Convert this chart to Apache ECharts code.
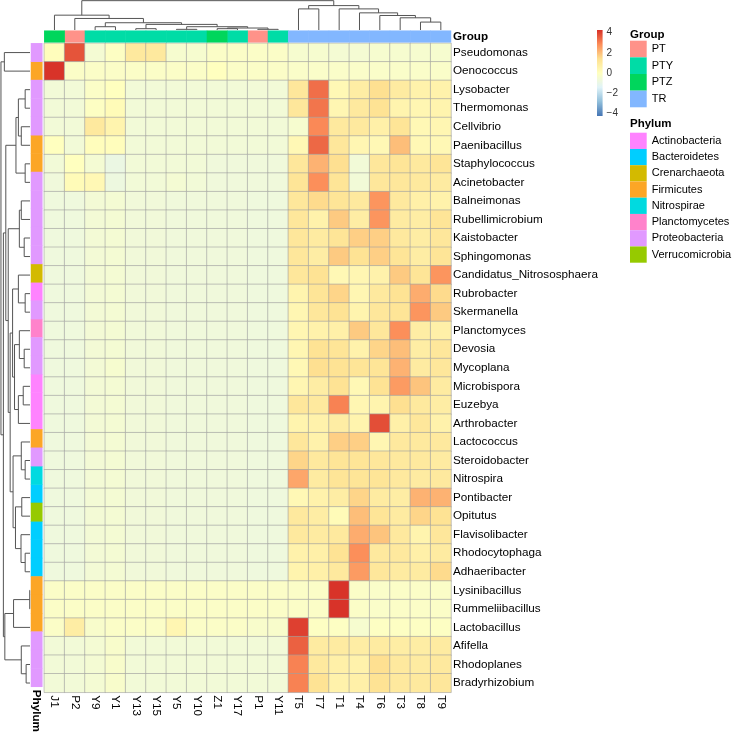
<!DOCTYPE html>
<html><head><meta charset="utf-8">
<script src="https://cdn.jsdelivr.net/npm/echarts@6/dist/echarts.min.js"></script>
<style>html,body{margin:0;padding:0;background:#fff}#c{width:733px;height:735px}</style>
</head><body><div id="c"></div>
<script>
const colNames = ['J1','P2','Y9','Y1','Y13','Y15','Y5','Y10','Z1','Y17','P1','Y11','T5','T7','T1','T4','T6','T3','T8','T9'];
const colGroups = ['PTZ','PT','PTY','PTY','PTY','PTY','PTY','PTY','PTZ','PTY','PT','PTY','TR','TR','TR','TR','TR','TR','TR','TR'];
const rowNames = ['Pseudomonas','Oenococcus','Lysobacter','Thermomonas','Cellvibrio','Paenibacillus','Staphylococcus','Acinetobacter','Balneimonas','Rubellimicrobium','Kaistobacter','Sphingomonas','Candidatus_Nitrososphaera','Rubrobacter','Skermanella','Planctomyces','Devosia','Mycoplana','Microbispora','Euzebya','Arthrobacter','Lactococcus','Steroidobacter','Nitrospira','Pontibacter','Opitutus','Flavisolibacter','Rhodocytophaga','Adhaeribacter','Lysinibacillus','Rummeliibacillus','Lactobacillus','Afifella','Rhodoplanes','Bradyrhizobium'];
const rowPhyla = ['Proteobacteria','Firmicutes','Proteobacteria','Proteobacteria','Proteobacteria','Firmicutes','Firmicutes','Proteobacteria','Proteobacteria','Proteobacteria','Proteobacteria','Proteobacteria','Crenarchaeota','Actinobacteria','Proteobacteria','Planctomycetes','Proteobacteria','Proteobacteria','Actinobacteria','Actinobacteria','Actinobacteria','Firmicutes','Proteobacteria','Nitrospirae','Bacteroidetes','Verrucomicrobia','Bacteroidetes','Bacteroidetes','Bacteroidetes','Firmicutes','Firmicutes','Firmicutes','Proteobacteria','Proteobacteria','Proteobacteria'];

// row z-scores, columns in colNames order
const zValues = [
 [0.1, 3.7,-0.5,-0.1, 1.0, 1.0,-0.4,-0.4,-0.2,-0.2,-0.2,-0.2, -0.4,-0.4,-0.5,-0.5,-0.4,-0.4,-0.4,-0.4],
 [4.2,-0.2,-0.2,-0.2,-0.2,-0.2,-0.2,-0.2, 0.0,-0.2,-0.2,-0.2, -0.25,-0.25,-0.25,-0.25,-0.25,-0.25,-0.25,-0.25],
 [-0.6,-0.6,-0.2, 0.0,-0.6,-0.6,-0.6,-0.6,-0.6,-0.6,-0.6,-0.6, 1.1, 3.3, 0.3, 0.8, 1.4, 0.9, 0.6, 0.6],
 [-0.6,-0.6,-0.1, 0.2,-0.6,-0.6,-0.6,-0.6,-0.6,-0.6,-0.6,-0.6, 1.1, 3.2, 0.4, 1.0, 1.3, 0.5, 0.4, 0.5],
 [-0.6,-0.6, 1.0, 0.5,-0.6,-0.6,-0.6,-0.6,-0.6,-0.6,-0.6,-0.6, -0.4, 2.9, 1.0, 1.0, 0.7, 1.2, 0.3, 0.4],
 [0.0,-0.6, 0.1, 0.1,-0.6,-0.6,-0.6,-0.6,-0.6,-0.6,-0.6,-0.6, 0.3, 3.4, 1.1, 0.4, 0.3, 2.0, 0.3, 0.3],
 [-0.6, 0.0,-0.5,-0.9,-0.6,-0.6,-0.6,-0.6,-0.7,-0.7,-0.7,-0.7, 1.1, 2.2, 1.4,-0.6, 1.1, 1.2, 1.0, 1.2],
 [-0.7, 0.2, 0.3,-0.8,-0.6,-0.6,-0.5,-0.6,-0.7,-0.7,-0.7,-0.7, 1.2, 2.8, 1.2,-0.6, 1.1, 1.1, 1.0, 0.9],
 [-0.75,-0.75,-0.55,-0.5,-0.65,-0.65,-0.7,-0.7,-0.7,-0.7,-0.75,-0.75, 1.1, 1.5, 1.2, 1.0, 2.7, 1.0, 0.7, 0.6],
 [-0.75,-0.75,-0.55,-0.5,-0.65,-0.65,-0.7,-0.7,-0.7,-0.7,-0.75,-0.75, 1.1, 0.6, 1.8, 0.8, 2.7, 0.9, 0.8, 1.2],
 [-0.75,-0.75,-0.55,-0.5,-0.65,-0.65,-0.7,-0.7,-0.7,-0.7,-0.75,-0.75, 1.1, 0.9, 1.2, 1.7, 1.7, 1.0, 0.8, 1.1],
 [-0.75,-0.75,-0.55,-0.5,-0.65,-0.65,-0.7,-0.7,-0.7,-0.7,-0.75,-0.75, 1.1, 0.8, 1.8, 1.3, 1.7, 1.2, 0.8, 1.2],
 [-0.75,-0.75,-0.55,-0.5,-0.65,-0.65,-0.7,-0.7,-0.7,-0.7,-0.75,-0.75, 1.1, 1.3, 0.3, 0.4, 0.6, 1.8, 1.2, 2.7],
 [-0.75,-0.75,-0.55,-0.5,-0.65,-0.65,-0.7,-0.7,-0.7,-0.7,-0.75,-0.75, 0.5, 1.2, 1.6, 0.4, 1.0, 1.3, 2.3, 1.5],
 [-0.75,-0.75,-0.55,-0.5,-0.65,-0.65,-0.7,-0.7,-0.7,-0.7,-0.75,-0.75, 0.4, 1.1, 1.3, 0.5, 1.1, 1.2, 2.7, 1.8],
 [-0.75,-0.75,-0.55,-0.5,-0.65,-0.65,-0.7,-0.7,-0.7,-0.7,-0.75,-0.75, 0.4, 0.6, 0.7, 1.8, 1.1, 2.8, 0.8, 0.7],
 [-0.75,-0.75,-0.55,-0.5,-0.65,-0.65,-0.7,-0.7,-0.7,-0.7,-0.75,-0.75, 0.4, 1.3, 1.2, 0.6, 1.6, 2.0, 0.8, 1.1],
 [-0.75,-0.75,-0.55,-0.4,-0.65,-0.65,-0.7,-0.7,-0.7,-0.7,-0.75,-0.75, 0.3, 1.4, 1.3, 1.2, 1.2, 2.2, 0.9, 1.1],
 [-0.75,-0.75,-0.55,-0.5,-0.65,-0.65,-0.7,-0.7,-0.7,-0.7,-0.75,-0.75, 0.4, 0.8, 1.3, 0.3, 1.3, 2.6, 1.9, 0.9],
 [-0.75,-0.75,-0.55,-0.5,-0.65,-0.65,-0.7,-0.7,-0.7,-0.7,-0.75,-0.75, 1.1, 1.0, 3.0, 0.4, 0.5, 1.4, 1.0, 0.8],
 [-0.75,-0.75,-0.55,-0.5,-0.65,-0.65,-0.7,-0.7,-0.7,-0.7,-0.75,-0.75, 0.5, 0.6, 0.8, 0.5, 3.8, 0.7, 1.1, 0.6],
 [-0.75,-0.75,-0.55,-0.5,-0.65,-0.65,-0.7,-0.7,-0.7,-0.7,-0.75,-0.75, 1.1, 0.6, 1.7, 1.7, 0.4, 1.0, 1.0, 1.0],
 [-0.75,-0.75,-0.55,-0.5,-0.65,-0.65,-0.7,-0.7,-0.7,-0.7,-0.75,-0.75, 1.6, 1.0, 1.2, 1.2, 1.1, 1.0, 1.0, 0.9],
 [-0.75,-0.75,-0.55,-0.5,-0.65,-0.65,-0.7,-0.7,-0.7,-0.7,-0.75,-0.75, 2.4, 0.9, 1.2, 1.2, 1.2, 1.0, 0.9, 1.0],
 [-0.75,-0.75,-0.55,-0.5,-0.65,-0.65,-0.7,-0.7,-0.7,-0.7,-0.75,-0.75, 0.3, 0.6, 0.8, 1.6, 0.9, 0.8, 2.2, 2.2],
 [-0.75,-0.75,-0.55,-0.5,-0.65,-0.65,-0.7,-0.7,-0.7,-0.7,-0.75,-0.75, 1.0, 0.8, 0.2, 2.0, 1.2, 0.9, 1.6, 1.3],
 [-0.75,-0.75,-0.55,-0.5,-0.65,-0.65,-0.7,-0.7,-0.7,-0.7,-0.75,-0.75, 1.0, 0.9, 1.0, 2.3, 1.9, 1.0, 0.5, 1.1],
 [-0.75,-0.75,-0.55,-0.5,-0.65,-0.65,-0.7,-0.7,-0.7,-0.7,-0.75,-0.75, 0.6, 0.7, 1.3, 2.8, 1.0, 1.0, 0.7, 0.9],
 [-0.75,-0.75,-0.55,-0.5,-0.65,-0.65,-0.7,-0.7,-0.7,-0.7,-0.75,-0.75, 0.5, 0.7, 1.0, 2.6, 1.1, 0.9, 0.9, 1.5],
 [-0.2,-0.2,-0.2,-0.2,-0.2,-0.2,-0.2,-0.2,-0.2,-0.2,-0.2,-0.2, -0.2,-0.2, 4.2,-0.2,-0.25,-0.2,-0.2,-0.2],
 [-0.2,-0.2,-0.2,-0.2,-0.2,-0.2,-0.2,-0.2,-0.2,-0.2,-0.2,-0.2, -0.2,-0.2, 4.2,-0.2,-0.25,-0.2,-0.2,-0.2],
 [-0.2, 0.8,-0.3,-0.2,-0.2,-0.2, 0.4,-0.2,-0.2,-0.2,-0.3,-0.3, 4.0,-0.1,-0.1,-0.4,-0.1,-0.1,-0.1,-0.1],
 [-0.6,-0.6,-0.5,-0.3,-0.6,-0.6,-0.6,-0.6,-0.6,-0.6,-0.6,-0.6, 3.5, 0.9, 0.9, 0.8, 0.9, 0.8, 0.8, 0.9],
 [-0.6,-0.6,-0.5,-0.3,-0.6,-0.6,-0.6,-0.6,-0.6,-0.6,-0.6,-0.6, 3.0, 1.0, 0.7, 0.6, 1.4, 1.0, 0.9, 1.0],
 [-0.6,-0.6,-0.5,-0.3,-0.6,-0.6,-0.6,-0.6,-0.6,-0.6,-0.6,-0.6, 3.0, 1.3, 0.6, 0.7, 1.3, 1.0, 1.0, 1.1]
];

const groupLevels = ['PT','PTY','PTZ','TR'];
const groupColors = ['#FF9289','#00DCA6','#00D65C','#82B7FF'];
const phylumLevels = ['Actinobacteria','Bacteroidetes','Crenarchaeota','Firmicutes','Nitrospirae','Planctomycetes','Proteobacteria','Verrucomicrobia'];
const phylumColors = ['#FF83FF','#00CEFF','#D3BA00','#FCA626','#00DAE0','#FF82CB','#E199FF','#96CA00'];
const heatPalette = ['#4575B4','#91BFDB','#E0F3F8','#FFFFBF','#FEE090','#FC8D59','#D73027'];
const scaleLimit = 4.25;
const legendTicks = [4, 2, 0, -2, -4];

// hclust-style merges: negative = leaf (-(index+1)), positive = earlier merge (1-based); third = height
const colMerges = [
 [-5,-6,4],[-7,-8,2],[-9,-10,4],[-11,-12,2],[3,4,6],[2,5,10],[1,6,17],[-3,-4,10],[8,7,22],[-2,9,35],[-1,10,45],
 [-19,-20,24],[-18,12,37],[-17,13,44],[-16,14,52],[-15,15,64],[-13,-14,64],[17,16,74],[11,18,89]
];
const rowMerges = [
 [-30,-31,0.3],[-3,-4,5],[-5,-6,9],[2,3,12],[-7,-8,5],[4,5,14.5],[-9,-10,9],[-11,-12,6],[7,8,11],
 [-14,-15,5],[-13,10,12],[-17,-18,6],[-16,12,11],[-19,-20,7],[14,-21,12],[13,15,16],[11,16,18],
 [-23,-24,5],[-22,18,9],[-25,-26,8.5],[-28,-29,5],[-27,21,9.3],[20,22,15],[19,23,17.5],[17,24,20.5],
 [9,25,22.5],[6,26,25],[-34,-35,4],[-33,28,9],[1,-32,17],[30,29,26],[27,31,27.5],[-1,-2,26.5],[33,32,30]
];

const FONT = '"Liberation Sans", Arial, Helvetica, sans-serif';
const HM = {left: 44.3, top: 43.3, width: 406.7, height: 649};

function layoutTree(merges) {
  const pos = [], ht = [], items = [];
  merges.forEach(([a, b, h], k) => {
    const pa = a < 0 ? (-a - 1) + 0.5 : pos[a - 1];
    const ha = a < 0 ? 0 : ht[a - 1];
    const pb = b < 0 ? (-b - 1) + 0.5 : pos[b - 1];
    const hb = b < 0 ? 0 : ht[b - 1];
    pos[k] = (pa + pb) / 2; ht[k] = h;
    items.push([pa, ha, pb, hb, h]);
  });
  return items;
}
function dendroRender(horizontal) {
  return function (params, api) {
    const a = api.value(0), ha = api.value(1), b = api.value(2), hb = api.value(3), h = api.value(4);
    const pts = horizontal ? [[a, ha], [a, h], [b, h], [b, hb]] : [[ha, a], [h, a], [h, b], [hb, b]];
    return {type: 'polyline', shape: {points: pts.map(p => api.coord(p))},
      style: {stroke: '#555', lineWidth: 1, fill: null}, silent: true};
  };
}

const heatData = [];
zValues.forEach((row, r) => row.forEach((v, c) => heatData.push([c, r, v])));

const series = [{
  type: 'heatmap', xAxisIndex: 0, yAxisIndex: 0, data: heatData,
  itemStyle: {borderColor: '#a0a0a0', borderWidth: 0.6}, emphasis: {disabled: true}, silent: true
}];
groupLevels.forEach((g, k) => series.push({
  type: 'heatmap', name: g, xAxisIndex: 3, yAxisIndex: 3,
  data: colGroups.map((x, i) => x === g ? [i, 0, 1] : null).filter(Boolean),
  itemStyle: {color: groupColors[k]}, emphasis: {disabled: true}, silent: true
}));
phylumLevels.forEach((p, k) => series.push({
  type: 'heatmap', name: p, xAxisIndex: 4, yAxisIndex: 4,
  data: rowPhyla.map((x, i) => x === p ? [0, i, 1] : null).filter(Boolean),
  itemStyle: {color: phylumColors[k]}, emphasis: {disabled: true}, silent: true
}));
series.push({type: 'custom', xAxisIndex: 1, yAxisIndex: 1, clip: false, silent: true,
  renderItem: dendroRender(true), data: layoutTree(colMerges)});
series.push({type: 'custom', xAxisIndex: 2, yAxisIndex: 2, clip: false, silent: true,
  renderItem: dendroRender(false), data: layoutTree(rowMerges)});
const stops = heatPalette.map((c, i) => ({offset: 1 - i / (heatPalette.length - 1), color: c})).reverse();
series.push({type: 'custom', xAxisIndex: 5, yAxisIndex: 5, clip: false, silent: true,
  data: [[0, -scaleLimit, scaleLimit]],
  renderItem: function (params, api) {
    const p1 = api.coord([0, api.value(2)]), p2 = api.coord([1, api.value(1)]);
    return {type: 'rect', shape: {x: p1[0], y: p1[1], width: p2[0] - p1[0], height: p2[1] - p1[1]},
      style: {fill: new echarts.graphic.LinearGradient(0, 0, 0, 1, stops)}};
  }});

const hidden = {show: false};
const option = {
  animation: false,
  backgroundColor: '#fff',
  textStyle: {fontFamily: FONT},
  title: [
    {text: 'Group', left: 630, top: 29, padding: 0, textStyle: {fontSize: 11.5, fontWeight: 'bold', color: '#000', fontFamily: FONT}},
    {text: 'Phylum', left: 630, top: 118, padding: 0, textStyle: {fontSize: 11.5, fontWeight: 'bold', color: '#000', fontFamily: FONT}}
  ],
  legend: [
    {data: groupLevels, orient: 'vertical', left: 630, top: 40.7, padding: 0, itemGap: 0, itemWidth: 16.7, itemHeight: 16.65,
      icon: 'rect', selectedMode: false, textStyle: {fontSize: 11, color: '#000', fontFamily: FONT}},
    {data: phylumLevels, orient: 'vertical', left: 630, top: 132.7, padding: 0, itemGap: 0, itemWidth: 16.7, itemHeight: 16.25,
      icon: 'rect', selectedMode: false, textStyle: {fontSize: 11, color: '#000', fontFamily: FONT}}
  ],
  visualMap: {type: 'continuous', show: false, seriesIndex: 0, dimension: 2, min: -scaleLimit, max: scaleLimit,
    inRange: {color: heatPalette}},
  grid: [
    {left: HM.left, top: HM.top, width: HM.width, height: HM.height},
    {left: HM.left, top: 0, width: HM.width, height: 30},
    {left: 0, top: HM.top, width: 30, height: HM.height},
    {left: HM.left, top: 30.7, width: HM.width, height: 11.6},
    {left: 31, top: HM.top, width: 11.3, height: HM.height},
    {left: 597, top: 30, width: 5.6, height: 86}
  ],
  xAxis: [
    {type: 'category', gridIndex: 0, data: colNames, position: 'bottom', axisLine: hidden, axisTick: hidden, splitLine: hidden,
      axisLabel: {interval: 0, rotate: -90, margin: 3, fontSize: 11.7, color: '#000', fontFamily: FONT}},
    {type: 'value', gridIndex: 1, min: 0, max: colNames.length, show: false},
    {type: 'value', gridIndex: 2, min: 0, max: 31, inverse: true, show: false},
    {type: 'category', gridIndex: 3, data: colNames, show: false},
    {type: 'category', gridIndex: 4, data: ['Phylum'], position: 'bottom', axisLine: hidden, axisTick: hidden,
      axisLabel: {rotate: -90, margin: 3, fontSize: 11.7, fontWeight: 'bold', color: '#000', fontFamily: FONT}},
    {type: 'value', gridIndex: 5, min: 0, max: 1, show: false}
  ],
  yAxis: [
    {type: 'category', gridIndex: 0, data: rowNames, inverse: true, position: 'right', axisLine: hidden, axisTick: hidden, splitLine: hidden,
      axisLabel: {interval: 0, margin: 2, fontSize: 11.7, color: '#000', fontFamily: FONT}},
    {type: 'value', gridIndex: 1, min: 0, max: 91, show: false},
    {type: 'value', gridIndex: 2, min: 0, max: rowNames.length, inverse: true, show: false},
    {type: 'category', gridIndex: 3, data: ['Group'], position: 'right', axisLine: hidden, axisTick: hidden,
      axisLabel: {margin: 2, fontSize: 11.7, fontWeight: 'bold', color: '#000', fontFamily: FONT}},
    {type: 'category', gridIndex: 4, data: rowNames, inverse: true, show: false},
    {type: 'value', gridIndex: 5, min: -scaleLimit, max: scaleLimit, position: 'right', axisLine: hidden, splitLine: hidden,
      axisTick: {show: false},
      axisLabel: {customValues: legendTicks, margin: 4, fontSize: 10, color: '#333', fontFamily: FONT,
        formatter: v => (v < 0 ? '\u2212' + Math.abs(v) : String(v))}}
  ],
  series: series
};
const chart = echarts.init(document.getElementById('c'), null, {renderer: 'canvas'});
chart.setOption(option);
</script></body></html>
